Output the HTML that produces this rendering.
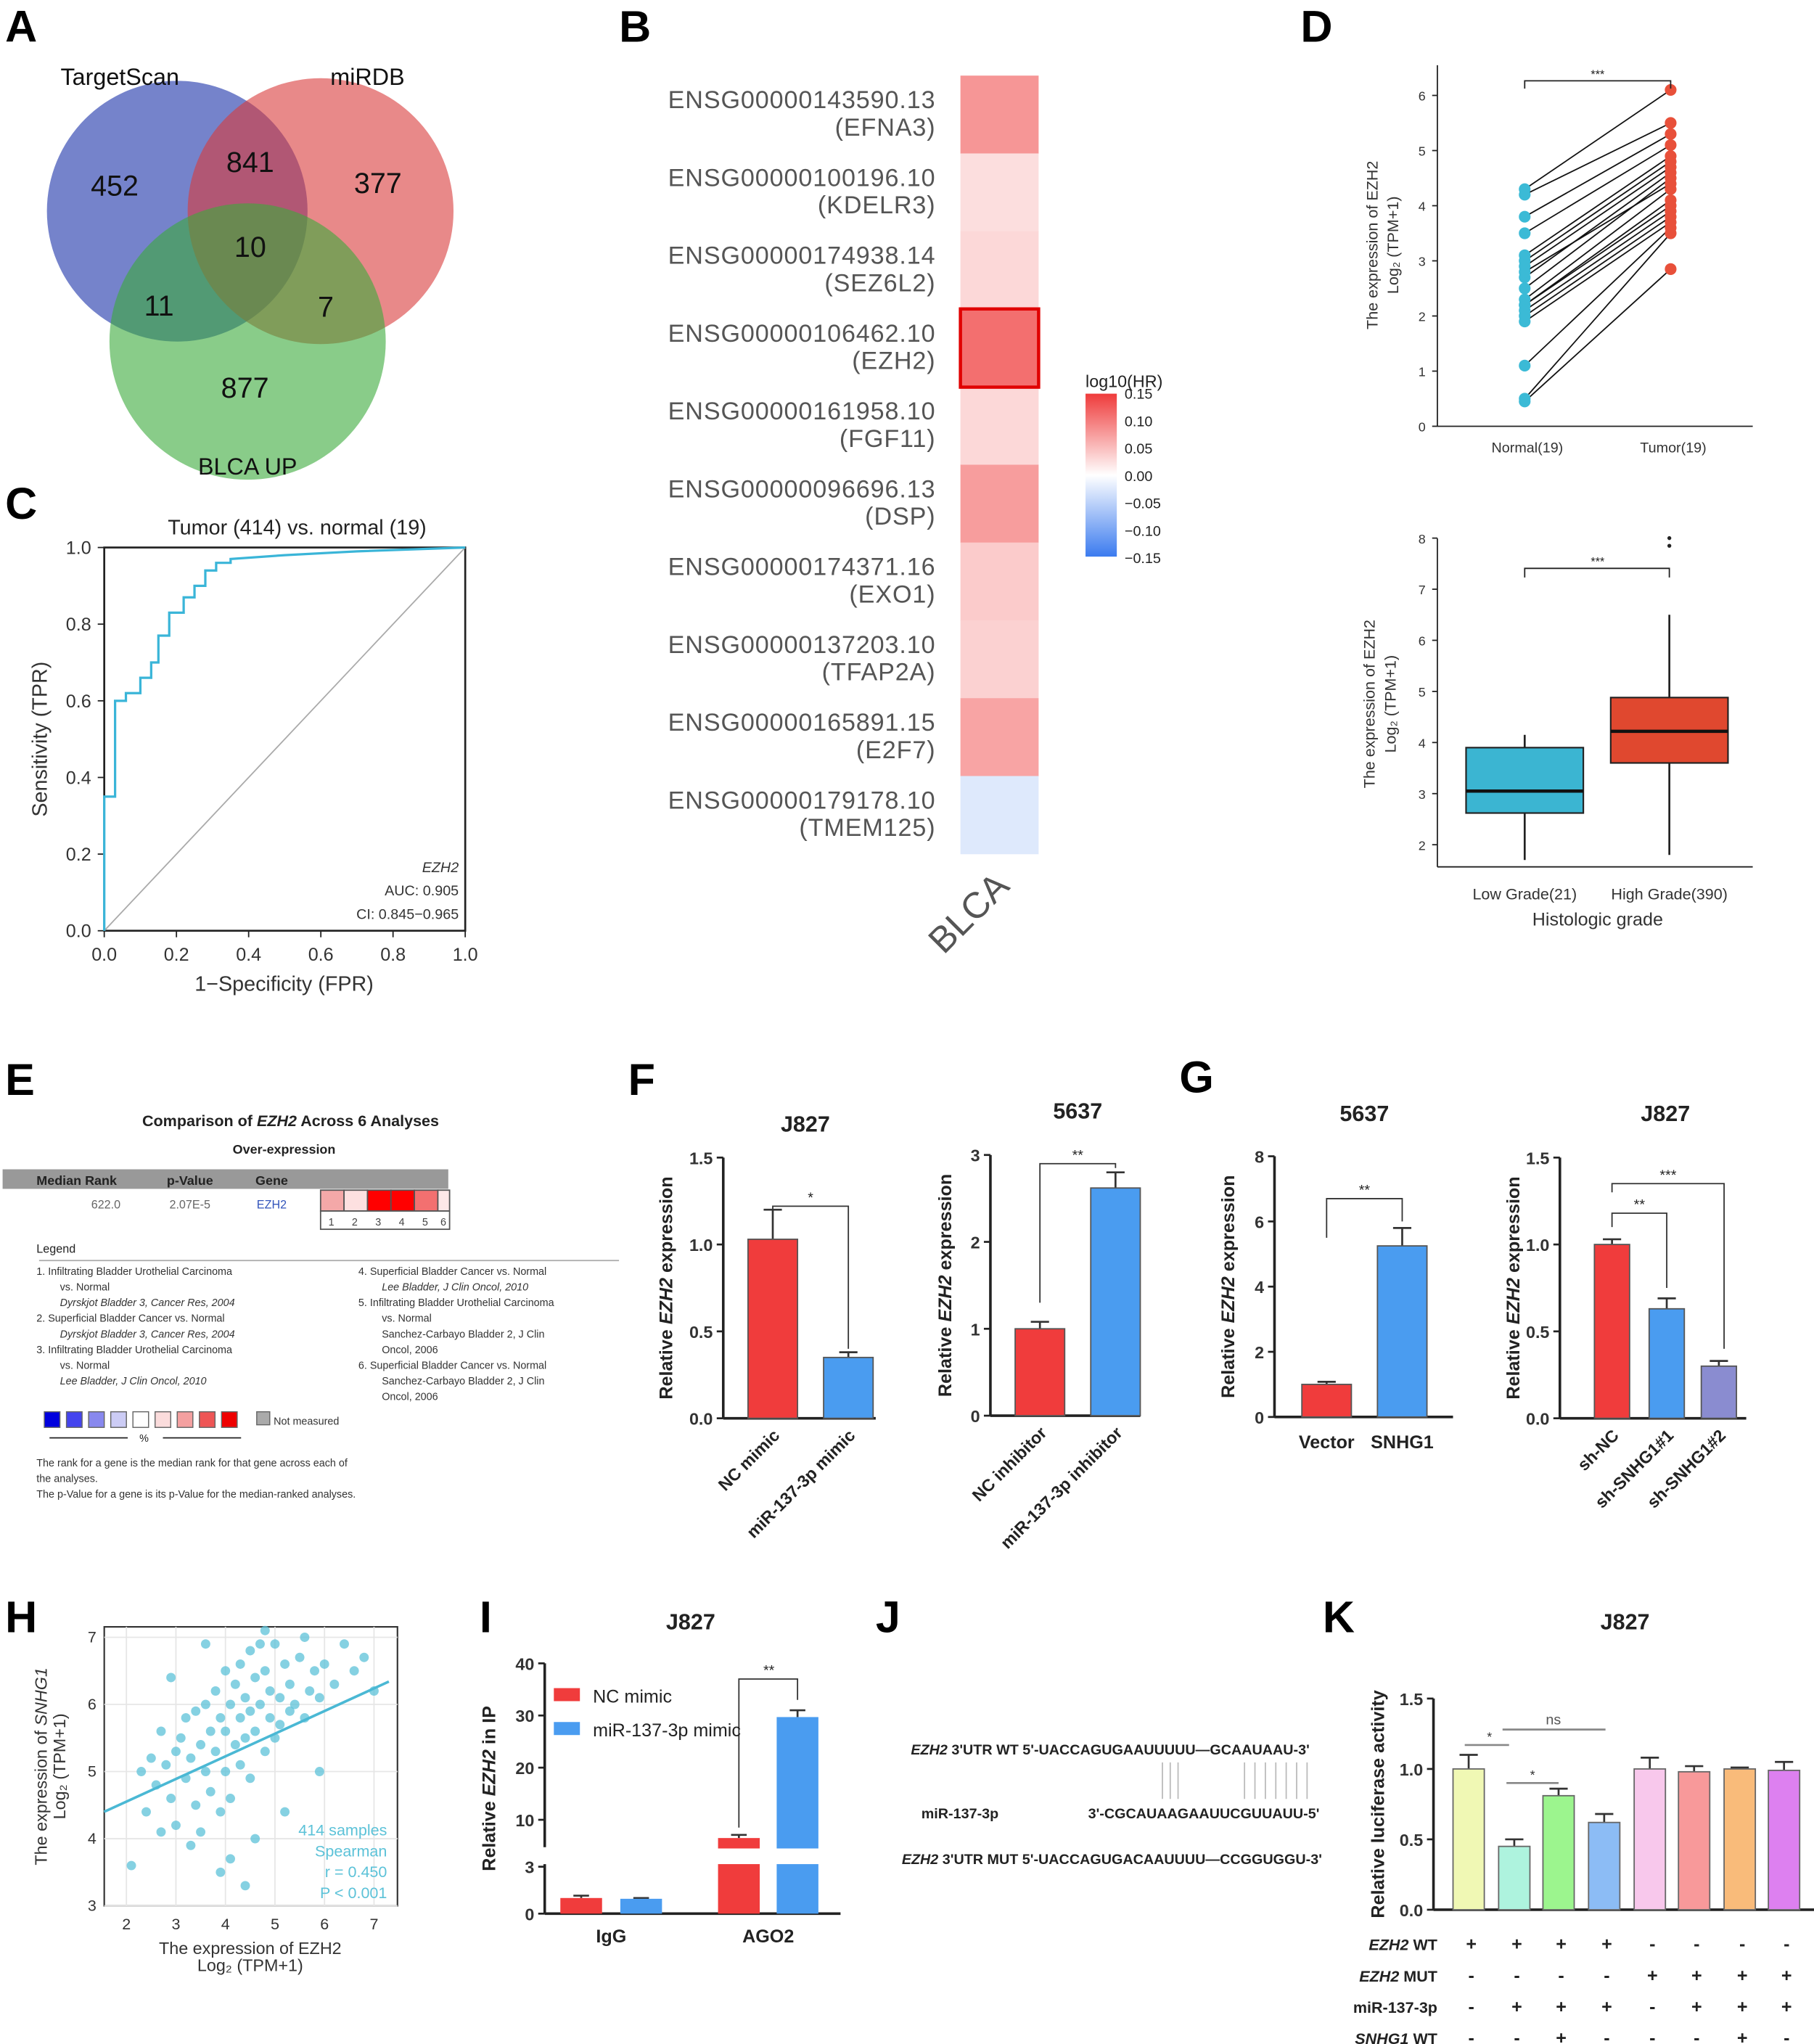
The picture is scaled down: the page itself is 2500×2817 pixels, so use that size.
<!DOCTYPE html>
<html><head><meta charset="utf-8"><style>
html,body{margin:0;padding:0;background:#fff;}
svg{display:block;font-family:"Liberation Sans",sans-serif;}
</style></head><body>
<svg id="fig" width="2500" height="2817" viewBox="0 0 1392 1568" preserveAspectRatio="none" xmlns="http://www.w3.org/2000/svg">
<rect x="0" y="0" width="1392" height="1568" fill="#fff"/>
<g font-weight="bold" font-size="34" fill="#000">
<text x="4" y="32">A</text>
<text x="475" y="32">B</text>
<text x="998" y="32">D</text>
<text x="4" y="398">C</text>
<text x="4" y="840">E</text>
<text x="482" y="840">F</text>
<text x="905" y="838">G</text>
<text x="4" y="1252">H</text>
<text x="368" y="1252">I</text>
<text x="672" y="1252">J</text>
<text x="1015" y="1252">K</text>
</g>
<!-- A Venn -->
<g>
<circle cx="136" cy="162" r="100" fill="#3b4fb5" fill-opacity="0.7"/>
<circle cx="246" cy="162" r="102" fill="#d83a3a" fill-opacity="0.6"/>
<circle cx="190" cy="262" r="106" fill="#3aaa3a" fill-opacity="0.6"/>
<g font-size="22" fill="#111" text-anchor="middle">
<text x="88" y="150">452</text><text x="192" y="132">841</text><text x="290" y="148">377</text>
<text x="192" y="197">10</text><text x="122" y="242">11</text><text x="250" y="243">7</text><text x="188" y="305">877</text>
</g>
<g font-size="18" fill="#111" text-anchor="middle">
<text x="92" y="65">TargetScan</text>
<text x="282" y="65">miRDB</text>
<text x="190" y="364">BLCA UP</text>
</g></g>
<!-- B heatmap -->
<g id="heat"></g>
<text x="750" y="707" font-size="28" fill="#555" transform="rotate(-45 750 707)" text-anchor="middle">BLCA</text>
<g>
<defs><linearGradient id="cb" x1="0" y1="0" x2="0" y2="1"><stop offset="0" stop-color="#ef3b3b"/><stop offset="0.5" stop-color="#ffffff"/><stop offset="1" stop-color="#3b7bef"/></linearGradient></defs>
<text x="833" y="297" font-size="13" fill="#222">log10(HR)</text>
<rect x="833" y="302" width="24" height="125" fill="url(#cb)"/>
<g font-size="11" fill="#222"><text x="863" y="306">0.15</text><text x="863" y="327">0.10</text><text x="863" y="348">0.05</text><text x="863" y="369">0.00</text><text x="863" y="390">−0.05</text><text x="863" y="411">−0.10</text><text x="863" y="432">−0.15</text></g>
</g>
<!-- C ROC -->
<g id="roc"></g>
<!-- D -->
<g id="dtop"></g>
<g id="dbot"></g>
<!-- E -->
<g fill="#222">
<text x="223" y="864" font-size="12" font-weight="bold" text-anchor="middle">Comparison of <tspan font-style="italic">EZH2</tspan> Across 6 Analyses</text>
<text x="218" y="885" font-size="10" font-weight="bold" text-anchor="middle">Over-expression</text>
<rect x="2" y="897" width="342" height="15" fill="#999"/>
<g font-size="10" font-weight="bold"><text x="28" y="909">Median Rank</text><text x="128" y="909">p-Value</text><text x="196" y="909">Gene</text></g>
<g font-size="9" fill="#666"><text x="70" y="927">622.0</text><text x="130" y="927">2.07E-5</text><text x="197" y="927" fill="#3355bb">EZH2</text></g>
<g stroke="#555" stroke-width="1"><rect x="246" y="913" width="18" height="16" fill="#f4a8a8"/><rect x="264" y="913" width="18" height="16" fill="#fde0e0"/><rect x="282" y="913" width="18" height="16" fill="#f00"/><rect x="300" y="913" width="18" height="16" fill="#f00"/><rect x="318" y="913" width="18" height="16" fill="#f37070"/><rect x="336" y="913" width="9" height="16" fill="#fde8e8"/>
<rect x="246" y="929" width="99" height="14" fill="#fff"/></g>
<g font-size="8" fill="#444"><text x="252" y="940">1</text><text x="270" y="940">2</text><text x="288" y="940">3</text><text x="306" y="940">4</text><text x="324" y="940">5</text><text x="338" y="940">6</text></g>
<text x="28" y="961" font-size="9">Legend</text>
<line x1="30" y1="967" x2="475" y2="967" stroke="#aaa"/>
<g font-size="8" fill="#333">
<text x="28" y="978">1.   Infiltrating Bladder Urothelial Carcinoma</text><text x="46" y="990">vs. Normal</text><text x="46" y="1002" font-style="italic">Dyrskjot Bladder 3, Cancer Res, 2004</text>
<text x="28" y="1014">2.   Superficial Bladder Cancer vs. Normal</text><text x="46" y="1026" font-style="italic">Dyrskjot Bladder 3, Cancer Res, 2004</text>
<text x="28" y="1038">3.   Infiltrating Bladder Urothelial Carcinoma</text><text x="46" y="1050">vs. Normal</text><text x="46" y="1062" font-style="italic">Lee Bladder, J Clin Oncol, 2010</text>
<text x="275" y="978">4.   Superficial Bladder Cancer vs. Normal</text><text x="293" y="990" font-style="italic">Lee Bladder, J Clin Oncol, 2010</text>
<text x="275" y="1002">5.   Infiltrating Bladder Urothelial Carcinoma</text><text x="293" y="1014">vs. Normal</text><text x="293" y="1026">Sanchez-Carbayo Bladder 2, J Clin</text><text x="293" y="1038">Oncol, 2006</text>
<text x="275" y="1050">6.   Superficial Bladder Cancer vs. Normal</text><text x="293" y="1062">Sanchez-Carbayo Bladder 2, J Clin</text><text x="293" y="1074">Oncol, 2006</text>
<g stroke="#666" stroke-width="0.8"><rect x="34" y="1083" width="12" height="12" fill="#0000dd"/><rect x="51" y="1083" width="12" height="12" fill="#4444ee"/><rect x="68" y="1083" width="12" height="12" fill="#8888ee"/><rect x="85" y="1083" width="12" height="12" fill="#ccccf5"/><rect x="102" y="1083" width="12" height="12" fill="#fff"/><rect x="119" y="1083" width="12" height="12" fill="#fbdcdc"/><rect x="136" y="1083" width="12" height="12" fill="#f4a0a0"/><rect x="153" y="1083" width="12" height="12" fill="#ee5555"/><rect x="170" y="1083" width="12" height="12" fill="#ee0000"/><rect x="197" y="1083" width="10" height="10" fill="#aaa"/></g>
<text x="210" y="1093">Not measured</text>
<text x="28" y="1125">The rank  for a gene is the median rank for that gene across each of</text><text x="28" y="1137">the analyses.</text><text x="28" y="1149">The p-Value for a gene is its p-Value for the median-ranked analyses.</text>
</g>
<g stroke="#222" stroke-width="1"><line x1="38" y1="1103" x2="98" y2="1103"/><line x1="125" y1="1103" x2="185" y2="1103"/></g>
<text x="107" y="1106" font-size="8">%</text>
</g>
<!-- bar charts -->
<g id="bars"></g>
<!-- H -->
<g id="scat"></g>
<!-- J -->
<g font-size="11" font-weight="bold" fill="#222">
<text x="699" y="1346"><tspan font-style="italic">EZH2</tspan> 3'UTR WT  5'-UACCAGUGAAUUUUU—GCAAUAAU-3'</text>
<text x="707" y="1395">miR-137-3p</text>
<text x="835" y="1395">3'-CGCAUAAGAAUUCGUUAUU-5'</text>
<text x="692" y="1430"><tspan font-style="italic">EZH2</tspan> 3'UTR MUT  5'-UACCAGUGACAAUUUU—CCGGUGGU-3'</text>
<g stroke="#bbb" stroke-width="1"><line x1="892" y1="1352" x2="892" y2="1380"/><line x1="898" y1="1352" x2="898" y2="1380"/><line x1="904" y1="1352" x2="904" y2="1380"/><line x1="955" y1="1352" x2="955" y2="1380"/><line x1="963" y1="1352" x2="963" y2="1380"/><line x1="971" y1="1352" x2="971" y2="1380"/><line x1="979" y1="1352" x2="979" y2="1380"/><line x1="987" y1="1352" x2="987" y2="1380"/><line x1="995" y1="1352" x2="995" y2="1380"/><line x1="1003" y1="1352" x2="1003" y2="1380"/></g>
</g>
</svg>
<script>
const NS='http://www.w3.org/2000/svg';
function el(tag,attrs,parent,txt){const e=document.createElementNS(NS,tag);for(const k in attrs)e.setAttribute(k,attrs[k]);if(txt!==undefined)e.textContent=txt;(parent||document.getElementById('fig')).appendChild(e);return e;}

// ---------- data ----------
const heatGenes=['ENSG00000143590.13','ENSG00000100196.10','ENSG00000174938.14','ENSG00000106462.10','ENSG00000161958.10','ENSG00000096696.13','ENSG00000174371.16','ENSG00000137203.10','ENSG00000165891.15','ENSG00000179178.10'];
const heatSymbols=['EFNA3','KDELR3','SEZ6L2','EZH2','FGF11','DSP','EXO1','TFAP2A','E2F7','TMEM125'];
const heatValues=[0.08,0.025,0.03,0.11,0.03,0.075,0.04,0.035,0.07,-0.025];
const rocFPR=[0,0,0.03,0.03,0.06,0.06,0.1,0.1,0.13,0.13,0.15,0.15,0.18,0.18,0.22,0.22,0.25,0.25,0.28,0.28,0.31,0.31,0.35,0.35,0.5,0.7,1];
const rocTPR=[0,0.35,0.35,0.6,0.6,0.62,0.62,0.66,0.66,0.7,0.7,0.77,0.77,0.83,0.83,0.87,0.87,0.9,0.9,0.94,0.94,0.96,0.96,0.97,0.98,0.99,1];
const rocTicks=[0,0.2,0.4,0.6,0.8,1.0];
const pairNormal=[4.3,4.2,3.8,3.5,3.1,3.0,2.9,2.7,2.5,2.3,2.2,2.2,2.1,2.0,1.9,1.1,0.5,0.45,2.8];
const pairTumor=[6.1,5.5,5.3,5.1,4.9,4.8,4.7,4.6,4.5,4.3,4.1,4.0,3.9,3.8,3.7,3.6,3.5,2.85,4.4];
const boxCats=['Low Grade(21)','High Grade(390)'];
const boxMin=[1.7,1.8],boxQ1=[2.62,3.6],boxMed=[3.05,4.22],boxQ3=[3.9,4.88],boxMax=[4.15,6.5];
const boxOutliers=[7.85,8.0];
const f1Cats=['NC mimic','miR-137-3p mimic'],f1Vals=[1.03,0.35],f1Errs=[0.17,0.03];
const f2Cats=['NC inhibitor','miR-137-3p inhibitor'],f2Vals=[1.0,2.62],f2Errs=[0.08,0.18];
const g1Cats=['Vector','SNHG1'],g1Vals=[1.0,5.25],g1Errs=[0.08,0.55];
const g2Cats=['sh-NC','sh-SNHG1#1','sh-SNHG1#2'],g2Vals=[1.0,0.63,0.3],g2Errs=[0.03,0.06,0.03];
const iCats=['IgG','AGO2'],iNC=[1.0,6.5],iNCErr=[0.15,0.6],iMiR=[0.95,29.7],iMiRErr=[0.05,1.3];
const kVals=[1.0,0.45,0.81,0.62,1.0,0.98,1.0,0.99],kErrs=[0.1,0.05,0.05,0.06,0.08,0.04,0.01,0.06];
const kRows=['EZH2 WT','EZH2 MUT','miR-137-3p','SNHG1 WT'];
const kSigns=[['+','+','+','+','-','-','-','-'],['-','-','-','-','+','+','+','+'],['-','+','+','+','-','+','+','+'],['-','-','+','-','-','-','+','-']];
const scatX=[2.1,2.3,2.4,2.5,2.6,2.7,2.8,2.9,3.0,3.0,3.1,3.2,3.2,3.3,3.4,3.4,3.5,3.5,3.6,3.6,3.7,3.7,3.8,3.8,3.9,3.9,4.0,4.0,4.0,4.1,4.1,4.2,4.2,4.3,4.3,4.3,4.4,4.4,4.5,4.5,4.5,4.6,4.6,4.7,4.7,4.8,4.8,4.9,4.9,5.0,5.0,5.1,5.1,5.2,5.3,5.3,5.4,5.5,5.6,5.7,5.8,5.9,6.0,6.2,6.4,6.6,6.8,7.0,3.3,3.9,4.6,5.2,2.9,4.8,5.6,3.6,4.1,4.4,2.7,5.9];
const scatY=[3.6,5.0,4.4,5.2,4.8,5.6,5.1,4.6,5.3,4.2,5.5,4.9,5.8,5.2,4.5,5.9,5.4,4.1,6.0,5.0,5.6,4.7,6.2,5.3,5.8,4.4,6.5,5.6,5.0,6.0,4.6,6.3,5.4,6.6,5.8,5.1,6.1,5.5,6.8,5.9,4.9,6.4,5.6,6.9,6.0,5.3,6.5,5.8,6.2,5.5,6.9,6.1,5.7,6.6,5.9,6.3,6.0,6.7,5.8,6.2,6.5,6.1,6.6,6.3,6.9,6.5,6.7,6.2,3.9,3.5,4.0,4.4,6.4,7.1,7.0,6.9,3.7,3.3,4.1,5.0];

// ---------- B heatmap ----------
const heat=document.getElementById('heat');
function heatColor(v){const t=Math.min(1,Math.abs(v)/0.15);const mix=(a,b)=>Math.round(255+(a-255)*t);return v>=0?`rgb(${mix(239)},${mix(59)},${mix(59)})`:`rgb(${mix(59)},${mix(123)},${mix(239)})`;}
heatValues.forEach((v,i)=>{
  const y=58+i*59.7;
  const c=el('rect',{x:737,y:y,width:60,height:60,fill:heatColor(v)},heat);
  
  
  const t1=el('text',{x:718,y:y+25,'font-size':19,'letter-spacing':0.5,fill:'#555','text-anchor':'end'},heat,heatGenes[i]);
  
  
  const t2=el('text',{x:718,y:y+46,'font-size':19,'letter-spacing':0.5,fill:'#555','text-anchor':'end'},heat,'('+heatSymbols[i]+')');
  
  
});
const hl=el('rect',{x:737,y:237,width:60,height:60,fill:'none',stroke:'#e00000','stroke-width':2.5},heat);



// ---------- C ROC ----------
const roc=document.getElementById('roc');
const rx=v=>80+v*277, ry=v=>714-v*294;
el('rect',{x:80,y:420,width:277,height:294,fill:'none',stroke:'#222','stroke-width':1.5},roc);
el('line',{x1:rx(0),y1:ry(0),x2:rx(1),y2:ry(1),stroke:'#aaa','stroke-width':1},roc);
rocTicks.forEach(t=>{
  el('line',{x1:rx(t),y1:714,x2:rx(t),y2:719,stroke:'#222'},roc);
  el('text',{x:rx(t),y:737,'font-size':14,fill:'#333','text-anchor':'middle'},roc,t.toFixed(1));
  el('line',{x1:75,y1:ry(t),x2:80,y2:ry(t),stroke:'#222'},roc);
  el('text',{x:70,y:ry(t)+5,'font-size':14,fill:'#333','text-anchor':'end'},roc,t.toFixed(1));
});
const rocLine=el('polyline',{points:rocFPR.map((f,i)=>rx(f)+','+ry(rocTPR[i])).join(' '),fill:'none',stroke:'#3ab5d8','stroke-width':1.8},roc);


el('text',{x:228,y:410,'font-size':16,fill:'#222','text-anchor':'middle'},roc,'Tumor (414) vs. normal (19)');
el('text',{x:218,y:760,'font-size':16,fill:'#333','text-anchor':'middle'},roc,'1−Specificity (FPR)');
el('text',{x:36,y:567,'font-size':16,fill:'#333','text-anchor':'middle',transform:'rotate(-90 36 567)'},roc,'Sensitivity (TPR)');
el('text',{x:352,y:669,'font-size':11,fill:'#333','text-anchor':'end','font-style':'italic'},roc,'EZH2');
el('text',{x:352,y:687,'font-size':11,fill:'#333','text-anchor':'end'},roc,'AUC: 0.905');
el('text',{x:352,y:705,'font-size':11,fill:'#333','text-anchor':'end'},roc,'CI: 0.845−0.965');

// ---------- D top ----------
const dt=document.getElementById('dtop');
const dy=v=>327-v*42.3;
el('line',{x1:1103,y1:50,x2:1103,y2:327,stroke:'#222'},dt);
el('line',{x1:1103,y1:327,x2:1345,y2:327,stroke:'#222'},dt);
[0,1,2,3,4,5,6].forEach(t=>{el('line',{x1:1099,y1:dy(t),x2:1103,y2:dy(t),stroke:'#222'},dt);el('text',{x:1094,y:dy(t)+4,'font-size':10,fill:'#333','text-anchor':'end'},dt,t);});
pairNormal.forEach((n,i)=>{
  const l=el('line',{x1:1170,y1:dy(n),x2:1282,y2:dy(pairTumor[i]),stroke:'#111','stroke-width':1},dt);
  
  
});
pairNormal.forEach((n,i)=>{
  const a=el('circle',{cx:1170,cy:dy(n),r:4.5,fill:'#3bbad6'},dt);
  
  
  const b=el('circle',{cx:1282,cy:dy(pairTumor[i]),r:4.5,fill:'#e8503a'},dt);
  
  
});
el('polyline',{points:'1170,68 1170,62 1282,62 1282,68',fill:'none',stroke:'#222'},dt);
el('text',{x:1226,y:60,'font-size':9,fill:'#222','text-anchor':'middle'},dt,'***');
el('text',{x:1172,y:347,'font-size':11,fill:'#333','text-anchor':'middle'},dt,'Normal(19)');
el('text',{x:1284,y:347,'font-size':11,fill:'#333','text-anchor':'middle'},dt,'Tumor(19)');
el('text',{x:1057,y:188,'font-size':12,fill:'#333','text-anchor':'middle',transform:'rotate(-90 1057 188)'},dt,'The expression of EZH2');
el('text',{x:1073,y:188,'font-size':12,fill:'#333','text-anchor':'middle',transform:'rotate(-90 1073 188)'},dt,'Log₂ (TPM+1)');

// ---------- D bottom ----------
const db=document.getElementById('dbot');
const by=v=>648-(v-2)*39.2;
el('line',{x1:1103,y1:413,x2:1103,y2:665,stroke:'#222'},db);
el('line',{x1:1103,y1:665,x2:1345,y2:665,stroke:'#222'},db);
[2,3,4,5,6,7,8].forEach(t=>{el('line',{x1:1099,y1:by(t),x2:1103,y2:by(t),stroke:'#222'},db);el('text',{x:1094,y:by(t)+4,'font-size':10,fill:'#333','text-anchor':'end'},db,t);});
const boxX=[1170,1281],boxCol=['#3bb5d2','#e0482f'];
boxCats.forEach((c,i)=>{
  const x=boxX[i];
  el('line',{x1:x,y1:by(boxMin[i]),x2:x,y2:by(boxMax[i]),stroke:'#222','stroke-width':1.5},db);
  const r=el('rect',{x:x-45,y:by(boxQ3[i]),width:90,height:by(boxQ1[i])-by(boxQ3[i]),fill:boxCol[i],stroke:'#222','stroke-width':1.2},db);
  
  
  el('line',{x1:x-45,y1:by(boxMed[i]),x2:x+45,y2:by(boxMed[i]),stroke:'#111','stroke-width':2.5},db);
  el('text',{x:x,y:690,'font-size':12,fill:'#333','text-anchor':'middle'},db,c);
});
boxOutliers.forEach(o=>{const p=el('circle',{cx:1281,cy:by(o),r:1.5,fill:'#222'},db);});
el('polyline',{points:'1170,443 1170,436 1281,436 1281,443',fill:'none',stroke:'#222'},db);
el('text',{x:1226,y:434,'font-size':9,fill:'#222','text-anchor':'middle'},db,'***');
el('text',{x:1226,y:710,'font-size':14,fill:'#333','text-anchor':'middle'},db,'Histologic grade');
el('text',{x:1055,y:540,'font-size':12,fill:'#333','text-anchor':'middle',transform:'rotate(-90 1055 540)'},db,'The expression of EZH2');
el('text',{x:1071,y:540,'font-size':12,fill:'#333','text-anchor':'middle',transform:'rotate(-90 1071 540)'},db,'Log₂ (TPM+1)');

// ---------- bar charts ----------
const bars=document.getElementById('bars');
function barChart(o){
  const sy=v=>o.y0-(v-0)/(o.ymax)*(o.y0-o.y1);
  el('line',{x1:o.ax,y1:o.y1,x2:o.ax,y2:o.y0,stroke:'#222','stroke-width':2},bars);
  el('line',{x1:o.ax,y1:o.y0,x2:o.xend,y2:o.y0,stroke:'#222','stroke-width':2},bars);
  o.ticks.forEach(t=>{el('line',{x1:o.ax-5,y1:sy(t),x2:o.ax,y2:sy(t),stroke:'#222','stroke-width':1.5},bars);el('text',{x:o.ax-8,y:sy(t)+5,'font-size':13,'font-weight':'bold',fill:'#333','text-anchor':'end'},bars,o.fmt?t.toFixed(1):t);});
  o.vals.forEach((v,i)=>{
    const x=o.xs[i];
    el('line',{x1:x,y1:sy(v),x2:x,y2:sy(v+o.errs[i]),stroke:'#333','stroke-width':1.5},bars);
    el('line',{x1:x-7,y1:sy(v+o.errs[i]),x2:x+7,y2:sy(v+o.errs[i]),stroke:'#333','stroke-width':1.5},bars);
    const r=el('rect',{x:x-o.w/2,y:sy(v),width:o.w,height:o.y0-sy(v),fill:o.cols[i],stroke:o.stroke||'#555','stroke-width':1},bars);
    
    
    if(o.cats){
      if(o.rot){el('text',{x:x+6,y:o.y0+14,'font-size':13,'font-weight':'bold',fill:'#222','text-anchor':'end',transform:`rotate(-45 ${x+6} ${o.y0+14})`},bars,o.cats[i]);}
      else el('text',{x:x,y:o.y0+24,'font-size':14,'font-weight':'bold',fill:'#222','text-anchor':'middle'},bars,o.cats[i]);
    }
  });
  el('text',{x:o.tx,y:o.ty,'font-size':17,'font-weight':'bold',fill:'#222','text-anchor':'middle'},bars,o.title);
  const yl=el('text',{x:o.lx,y:(o.y0+o.y1)/2,'font-size':14,'font-weight':'bold',fill:'#222','text-anchor':'middle',transform:`rotate(-90 ${o.lx} ${(o.y0+o.y1)/2})`},bars);
  yl.innerHTML=o.ylab;
  return sy;
}
const RED='#f03c3c',BLUE='#4a9cf0';
const ylabE='Relative <tspan font-style="italic">EZH2</tspan> expression';
const s1=barChart({id:'f1',ax:555,y0:1088,y1:888,ymax:1.5,ticks:[0,0.5,1.0,1.5],fmt:1,xs:[593,651],w:38,xend:672,vals:f1Vals,errs:f1Errs,cols:[RED,BLUE],cats:f1Cats,rot:1,title:'J827',tx:618,ty:868,lx:516,ylab:ylabE});
el('polyline',{points:`593,${s1(1.22)+10} 593,${s1(1.22)} 651,${s1(1.22)} 651,${s1(0.4)}`,fill:'none',stroke:'#333'},bars);
el('text',{x:622,y:s1(1.22)-3,'font-size':11,fill:'#222','text-anchor':'middle'},bars,'*');
const s2=barChart({id:'f2',ax:760,y0:1086,y1:886,ymax:3,ticks:[0,1,2,3],xs:[798,856],w:38,xend:875,vals:f2Vals,errs:f2Errs,cols:[RED,BLUE],cats:f2Cats,rot:1,title:'5637',tx:827,ty:858,lx:730,ylab:ylabE});
el('polyline',{points:`798,${s2(1.3)} 798,${s2(2.9)} 856,${s2(2.9)} 856,${s2(2.85)}`,fill:'none',stroke:'#333'},bars);
el('text',{x:827,y:s2(2.9)-3,'font-size':11,fill:'#222','text-anchor':'middle'},bars,'**');
const s3=barChart({id:'g1',ax:978,y0:1087,y1:887,ymax:8,ticks:[0,2,4,6,8],xs:[1018,1076],w:38,xend:1115,vals:g1Vals,errs:g1Errs,cols:[RED,BLUE],cats:g1Cats,rot:0,title:'5637',tx:1047,ty:860,lx:947,ylab:ylabE});
el('polyline',{points:`1018,${s3(5.5)} 1018,${s3(6.7)} 1076,${s3(6.7)} 1076,${s3(6.0)}`,fill:'none',stroke:'#333'},bars);
el('text',{x:1047,y:s3(6.7)-3,'font-size':11,fill:'#222','text-anchor':'middle'},bars,'**');
const s4=barChart({id:'g2',ax:1197,y0:1088,y1:888,ymax:1.5,ticks:[0,0.5,1.0,1.5],fmt:1,xs:[1237,1279,1319],w:27,xend:1340,vals:g2Vals,errs:g2Errs,cols:[RED,BLUE,'#8a8cd0'],cats:g2Cats,rot:1,title:'J827',tx:1278,ty:860,lx:1166,ylab:ylabE});
el('polyline',{points:`1237,${s4(1.1)} 1237,${s4(1.18)} 1279,${s4(1.18)} 1279,${s4(0.75)}`,fill:'none',stroke:'#333'},bars);
el('text',{x:1258,y:s4(1.18)-3,'font-size':11,fill:'#222','text-anchor':'middle'},bars,'**');
el('polyline',{points:`1237,${s4(1.3)} 1237,${s4(1.35)} 1323,${s4(1.35)} 1323,${s4(0.4)}`,fill:'none',stroke:'#333'},bars);
el('text',{x:1280,y:s4(1.35)-3,'font-size':11,fill:'#222','text-anchor':'middle'},bars,'***');

// I (broken axis)
function iy(v){return v<=3? 1468-v*12 : 1436-v*4;}
el('line',{x1:418,y1:1276,x2:418,y2:1417,stroke:'#222','stroke-width':2},bars);
el('line',{x1:418,y1:1430,x2:418,y2:1468,stroke:'#222','stroke-width':2},bars);
el('line',{x1:418,y1:1468,x2:645,y2:1468,stroke:'#222','stroke-width':2},bars);
[0,3,10,20,30,40].forEach(t=>{el('line',{x1:413,y1:iy(t),x2:418,y2:iy(t),stroke:'#222','stroke-width':1.5},bars);el('text',{x:410,y:iy(t)+5,'font-size':13,'font-weight':'bold',fill:'#333','text-anchor':'end'},bars,t);});
const iX=[[446,567],[492,612]];
[[iNC,iNCErr,RED],[iMiR,iMiRErr,BLUE]].forEach((s,k)=>{
  s[0].forEach((v,i)=>{
    const x=iX[k][i];
    el('line',{x1:x,y1:iy(v),x2:x,y2:iy(v+s[1][i]),stroke:'#333','stroke-width':1.5},bars);
    el('line',{x1:x-6,y1:iy(v+s[1][i]),x2:x+6,y2:iy(v+s[1][i]),stroke:'#333','stroke-width':1.5},bars);
    const r=el('rect',{x:x-16,y:iy(v),width:32,height:1468-iy(v),fill:s[2]},bars);
    
    
  });
});
el('rect',{x:420,y:1418,width:230,height:12,fill:'#fff'},bars);
iCats.forEach((c,i)=>el('text',{x:(iX[0][i]+iX[1][i])/2,y:1490,'font-size':14,'font-weight':'bold',fill:'#222','text-anchor':'middle'},bars,c));
el('text',{x:530,y:1250,'font-size':17,'font-weight':'bold',fill:'#222','text-anchor':'middle'},bars,'J827');
const il=el('text',{x:380,y:1372,'font-size':14,'font-weight':'bold',fill:'#222','text-anchor':'middle',transform:'rotate(-90 380 1372)'},bars);
il.innerHTML='Relative <tspan font-style="italic">EZH2</tspan> in IP';
el('polyline',{points:`567,${iy(8.5)} 567,${iy(37)} 612,${iy(37)} 612,${iy(33)}`,fill:'none',stroke:'#333'},bars);
el('text',{x:590,y:iy(37)-3,'font-size':11,fill:'#222','text-anchor':'middle'},bars,'**');
const lg=el('g',{},bars);


el('rect',{x:425,y:1295,width:20,height:10,fill:RED},lg);el('text',{x:455,y:1306,'font-size':14,fill:'#222'},lg,'NC mimic');
el('rect',{x:425,y:1321,width:20,height:10,fill:BLUE},lg);el('text',{x:455,y:1332,'font-size':14,fill:'#222'},lg,'miR-137-3p mimic');

// K
const kCols=['#f0f8b4','#aef3de','#9cf58e','#8cbcf5','#f8c8ec','#f8999a','#f9bb7a','#dd80f0'];
const kX=[1127,1162,1196,1231,1266,1300,1335,1369];
const sk=barChart({id:'k',ax:1100,y0:1465,y1:1303,ymax:1.5,ticks:[0,0.5,1.0,1.5],fmt:1,xs:kX,w:24,xend:1392,vals:kVals,errs:kErrs,cols:kCols,stroke:'#666',title:'J827',tx:1247,ty:1250,lx:1062,ylab:'Relative luciferase activity'});
el('line',{x1:1124,y1:sk(1.17),x2:1158,y2:sk(1.17),stroke:'#888','stroke-width':1.5},bars);el('text',{x:1143,y:sk(1.17)-3,'font-size':10,fill:'#333','text-anchor':'middle'},bars,'*');
el('line',{x1:1153,y1:sk(1.28),x2:1232,y2:sk(1.28),stroke:'#888','stroke-width':1.5},bars);el('text',{x:1192,y:sk(1.28)-4,'font-size':11,fill:'#555','text-anchor':'middle'},bars,'ns');
el('line',{x1:1156,y1:sk(0.9),x2:1196,y2:sk(0.9),stroke:'#888','stroke-width':1.5},bars);el('text',{x:1176,y:sk(0.9)-3,'font-size':10,fill:'#333','text-anchor':'middle'},bars,'*');
kRows.forEach((r,j)=>{
  const y=1496+j*24;
  const t=el('text',{x:1103,y:y,'font-size':12,'font-weight':'bold',fill:'#222','text-anchor':'end'},bars);
  t.innerHTML=j<2?`<tspan font-style="italic">EZH2</tspan> ${r.split(' ')[1]}`:(j==3?'<tspan font-style="italic">SNHG1</tspan> WT':r);
  kSigns[j].forEach((s,i)=>el('text',{x:kX[i]+2,y:y,'font-size':14,'font-weight':'bold',fill:'#222','text-anchor':'middle'},bars,s));
});

// ---------- H scatter ----------
const sc=document.getElementById('scat');
const hx=v=>97+(v-2)*38, hy=v=>1462-(v-3)*51.5;
el('rect',{x:80,y:1248,width:225,height:214,fill:'#fff',stroke:'#333','stroke-width':1.2},sc);
[2,3,4,5,6,7].forEach(t=>{el('line',{x1:hx(t),y1:1248,x2:hx(t),y2:1462,stroke:'#e6e6e6'},sc);el('text',{x:hx(t),y:1480,'font-size':12,fill:'#333','text-anchor':'middle'},sc,t);});
[3,4,5,6,7].forEach(t=>{el('line',{x1:80,y1:hy(t),x2:305,y2:hy(t),stroke:'#e6e6e6'},sc);el('text',{x:74,y:hy(t)+4,'font-size':12,fill:'#333','text-anchor':'end'},sc,t);});
scatX.forEach((x,i)=>{const p=el('circle',{cx:hx(x),cy:hy(scatY[i]),r:3.6,fill:'#5cc2d8','fill-opacity':0.75},sc);});
const fit=el('line',{x1:hx(1.55),y1:hy(4.4),x2:hx(7.3),y2:hy(6.34),stroke:'#4ab8d4','stroke-width':2},sc);


['414 samples','Spearman','r = 0.450','P < 0.001'].forEach((s,i)=>el('text',{x:297,y:1408+i*16,'font-size':12,fill:'#5cc2d8','text-anchor':'end'},sc,s));
el('text',{x:192,y:1499,'font-size':13,fill:'#333','text-anchor':'middle'},sc,'The expression of EZH2');
el('text',{x:192,y:1512,'font-size':13,fill:'#333','text-anchor':'middle'},sc,'Log₂ (TPM+1)');
const sl=el('text',{x:36,y:1355,'font-size':13,fill:'#333','text-anchor':'middle',transform:'rotate(-90 36 1355)'},sc);
sl.innerHTML='The expression of <tspan font-style="italic">SNHG1</tspan>';
el('text',{x:50,y:1355,'font-size':13,fill:'#333','text-anchor':'middle',transform:'rotate(-90 50 1355)'},sc,'Log₂ (TPM+1)');
</script>
</body></html>
